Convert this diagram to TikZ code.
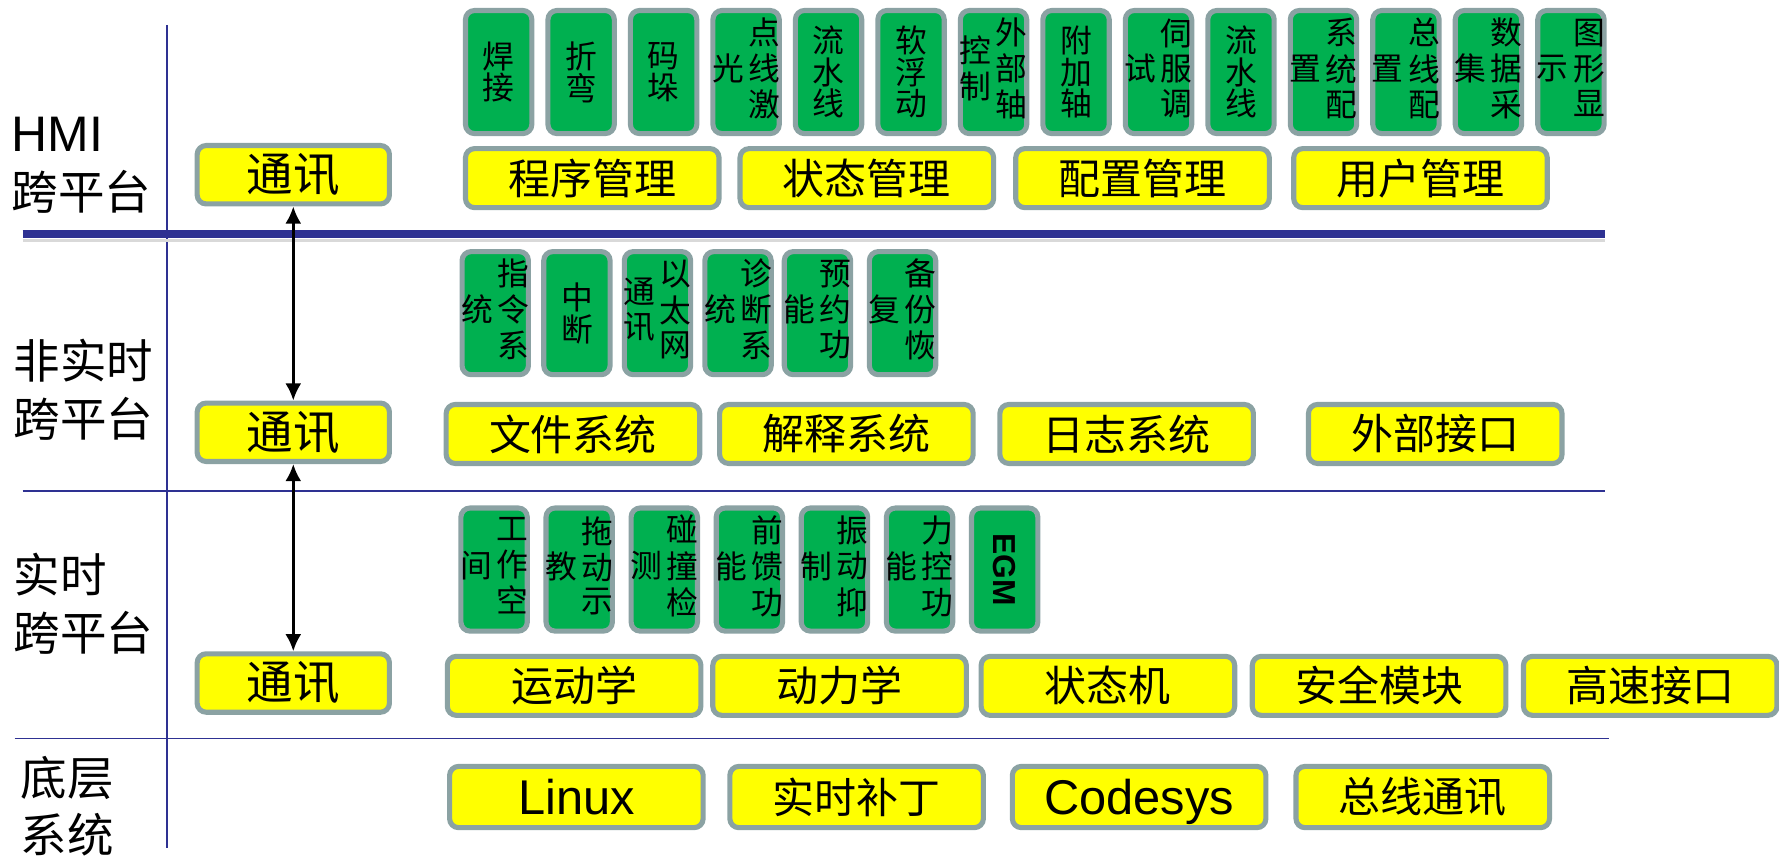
\documentclass[tikz,border=0pt]{standalone}
\usepackage{fontspec}
\setmainfont{Noto Sans CJK SC}
\newfontfamily\latinfont{Liberation Sans}
\usetikzlibrary{positioning}
\usetikzlibrary{arrows.meta}
\definecolor{edgegray}{RGB}{139,162,163}
\definecolor{leafgreen}{RGB}{0,176,80}
\definecolor{lemon}{RGB}{255,255,0}
\definecolor{navy}{RGB}{46,49,146}
% vertical text: one column, or two columns read right to left
\newcommand{\vcol}[1]{\begin{tabular}{@{}c@{}}#1\end{tabular}}
\newcommand{\vtwo}[2]{\makebox[40pt][c]{\begin{tabular}{@{}c@{\hspace{4pt}}c@{}}\vcol{#2}&\vcol{#1}\end{tabular}}}
\tikzset{
	card/.style={draw=edgegray, line width=4.5pt, rounded corners=8pt, inner sep=0pt},
	feat/.style={card, fill=leafgreen, minimum width=58.5pt, minimum height=108.5pt, align=center, font=\fontsize{28}{28}\selectfont},
	func/.style={card, fill=lemon, minimum width=223.5pt, minimum height=52pt, font=\fontsize{37}{37}\selectfont},
	comm/.style={card, fill=lemon, minimum width=169.5pt, minimum height=51.5pt, font=\fontsize{41}{41}\selectfont},
	layername/.style={anchor=north west, align=left, inner sep=0pt, font=\fontsize{41}{51}\selectfont},
	divider/.style={draw=navy, line width=1.5pt},
}

\begin{document}
\begin{tikzpicture}[x=1pt, y=-1pt]
	\useasboundingbox (0,0) rectangle (1568,755);
	
	% layer lines
	\draw [divider] (147,22) -- (147,747);
	\draw [gray!30, line width=3pt] (20,212) -- (1415,212);
	\draw [divider, line width=7pt] (20,206.5) -- (1415,206.5);
	\draw [divider] (20,433) -- (1415,433);
	\draw [divider] (13,651) -- (1418,651);
	
	% layer names
	\node (hmi) [layername] at (10,103) {{\latinfont\fontsize{44}{51}\selectfont HMI}\\跨平台};
	\node (nrt) [layername] at (12,299) {非实时\\跨平台};
	\node (rt) [layername] at (12,487) {实时\\跨平台};
	\node (base) [layername] at (18,666) {底层\\系统};
	
	% HMI
	\node (comm1) [comm] at (258.5,154) {通讯};
	\node (weld) [feat, anchor=west] at (408,63.5) {焊\\接};
	\node (bend) [feat, right=9.7pt of weld] {折\\弯};
	\node (stack) [feat, right=9.7pt of bend] {码\\垛};
	\node (laser) [feat, right=9.7pt of stack] {\vtwo{点\\线\\激}{光}};
	\node (line1) [feat, right=9.7pt of laser] {流\\水\\线};
	\node (soft) [feat, right=9.7pt of line1] {软\\浮\\动};
	\node (extax) [feat, right=9.7pt of soft] {\vtwo{外\\部\\轴}{控\\制}};
	\node (addax) [feat, right=9.7pt of extax] {附\\加\\轴};
	\node (servo) [feat, right=9.7pt of addax] {\vtwo{伺\\服\\调}{试}};
	\node (line2) [feat, right=9.7pt of servo] {流\\水\\线};
	\node (syscfg) [feat, right=9.7pt of line2] {\vtwo{系\\统\\配}{置}};
	\node (buscfg) [feat, right=9.7pt of syscfg] {\vtwo{总\\线\\配}{置}};
	\node (daq) [feat, right=9.7pt of buscfg] {\vtwo{数\\据\\采}{集}};
	\node (gfx) [feat, right=9.7pt of daq] {\vtwo{图\\形\\显}{示}};
	\node (prog) [func, anchor=west] at (408,157) {程序管理};
	\node (statem) [func, right=14pt of prog] {状态管理};
	\node (cfgm) [func, right=15pt of statem] {配置管理};
	\node (userm) [func, right=17pt of cfgm] {用户管理};
	
	% non real-time
	\node (comm2) [comm] at (258.5,381) {通讯};
	\node (instr) [feat, anchor=west] at (405,276) {\vtwo{指\\令\\系}{统}};
	\node (intr) [feat, right=9pt of instr] {中\\断};
	\node (eth) [feat, right=8pt of intr] {\vtwo{以\\太\\网}{通\\讯}};
	\node (diag) [feat, right=8pt of eth] {\vtwo{诊\\断\\系}{统}};
	\node (sched) [feat, right=7pt of diag] {\vtwo{预\\约\\功}{能}};
	\node (backup) [feat, right=12pt of sched] {\vtwo{备\\份\\恢}{复}};
	\node (files) [func, anchor=west] at (391,382.5) {文件系统};
	\node (interp) [func, right=13pt of files] {解释系统};
	\node (logs) [func, right=19pt of interp] {日志系统};
	\node (extif) [func, right=44pt of logs] {外部接口};
	
	% real-time
	\node (comm3) [comm] at (258.5,602) {通讯};
	\node (space) [feat, anchor=west] at (404,502) {\vtwo{工\\作\\空}{间}};
	\node (drag) [feat, right=12pt of space] {\vtwo{拖\\动\\示}{教}};
	\node (coll) [feat, right=12pt of drag] {\vtwo{碰\\撞\\检}{测}};
	\node (ffwd) [feat, right=12pt of coll] {\vtwo{前\\馈\\功}{能}};
	\node (vib) [feat, right=12pt of ffwd] {\vtwo{振\\动\\抑}{制}};
	\node (force) [feat, right=12pt of vib] {\vtwo{力\\控\\功}{能}};
	\node (egm) [feat, right=12pt of force] {\rotatebox{-90}{\latinfont\bfseries EGM}};
	\node (kin) [func, anchor=west] at (392,604.5) {运动学};
	\node (dyn) [func, right=6pt of kin] {动力学};
	\node (fsm) [func, right=8.5pt of dyn] {状态机};
	\node (safety) [func, right=11pt of fsm] {安全模块};
	\node (hsif) [func, right=11pt of safety] {高速接口};
	
	% base system
	\node (linux) [func, anchor=west, minimum height=54pt] at (394,702.5) {\latinfont\fontsize{43}{43}\selectfont Linux};
	\node (rtpatch) [func, minimum height=54pt, right=19pt of linux] {实时补丁};
	\node (codesys) [func, minimum height=54pt, text depth=0pt, right=21pt of rtpatch] {\latinfont\fontsize{43}{43}\selectfont Codesys};
	\node (fieldbus) [func, minimum height=54pt, right=22pt of codesys] {总线通讯};
	
	\begin{scope}[line width=2.2pt, black, <->, >={Latex[length=15pt, width=14pt]}]
		\draw (comm1) -- (comm2);
		\draw (comm2) -- (comm3);
	\end{scope}
\end{tikzpicture}
\end{document}
